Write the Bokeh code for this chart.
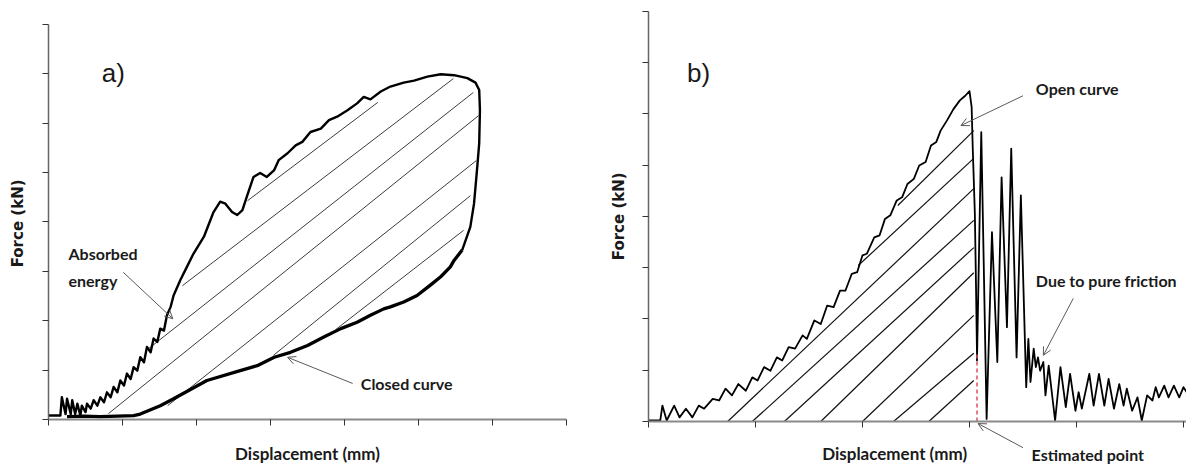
import math
from bokeh.plotting import figure
from bokeh.layouts import row
from bokeh.models import Label, Arrow, OpenHead, FixedTicker, Range1d, CustomJSTickFormatter
from bokeh.embed import file_html
from bokeh.resources import INLINE

# ---------------- Panel a data ----------------
a_xticks = [0, 1, 2, 3, 4, 5, 6, 7]
a_yticks = [0, 1, 2, 3, 4, 5, 6, 7, 8]

a_load_x = [0.00, 0.16, 0.18, 0.23, 0.25, 0.30, 0.32, 0.36, 0.39, 0.43,
            0.45, 0.50, 0.52, 0.57, 0.61, 0.66, 0.70, 0.75, 0.79, 0.84,
            0.88, 0.93, 0.97, 1.02, 1.06, 1.11, 1.15, 1.20, 1.24, 1.29,
            1.33, 1.38, 1.42, 1.47, 1.51, 1.56, 1.60, 1.65, 1.69, 1.78,
            1.87, 1.96, 2.10, 2.23, 2.32, 2.39, 2.48, 2.55, 2.62, 2.68,
            2.77, 2.86, 2.95, 3.05, 3.11, 3.23, 3.34, 3.43, 3.54, 3.68,
            3.79, 3.90, 4.04, 4.17, 4.26, 4.35, 4.49, 4.62, 4.80, 4.94,
            5.12, 5.30, 5.48, 5.66, 5.77, 5.82, 5.83, 5.82, 5.79, 5.75,
            5.70, 5.59]
a_load_y = [0.08, 0.08, 0.45, 0.11, 0.42, 0.11, 0.39, 0.11, 0.32, 0.08,
            0.28, 0.15, 0.32, 0.22, 0.39, 0.28, 0.45, 0.35, 0.55, 0.45,
            0.66, 0.55, 0.79, 0.69, 0.93, 0.82, 1.06, 0.99, 1.26, 1.16,
            1.47, 1.36, 1.64, 1.57, 1.84, 1.80, 2.11, 2.28, 2.51, 2.82,
            3.09, 3.36, 3.70, 4.20, 4.41, 4.37, 4.20, 4.14, 4.24, 4.51,
            4.91, 4.99, 4.91, 5.05, 5.25, 5.39, 5.55, 5.62, 5.82, 5.89,
            6.06, 6.13, 6.26, 6.40, 6.53, 6.48, 6.64, 6.74, 6.82, 6.86,
            6.94, 6.99, 6.97, 6.91, 6.82, 6.67, 6.26, 5.59, 5.05, 4.37,
            3.90, 3.43]

a_unload_x = [5.59, 5.48, 5.43, 5.30, 5.16, 4.98, 4.80, 4.62, 4.53, 4.35,
              4.17, 3.95, 3.72, 3.50, 3.27, 3.05, 2.82, 2.59, 2.14, 1.69,
              1.51, 1.24, 1.15, 0.93, 0.70, 0.48, 0.25]
a_unload_y = [3.43, 3.22, 3.09, 2.89, 2.72, 2.51, 2.38, 2.28, 2.24, 2.11,
              1.97, 1.84, 1.67, 1.50, 1.36, 1.26, 1.09, 0.99, 0.79, 0.42,
              0.28, 0.11, 0.08, 0.07, 0.06, 0.07, 0.06]

a_hatch_x0 = [0.81, 1.34, 1.61, 1.81, 2.69, 3.04, 3.88]
a_hatch_y0 = [0.12, 1.42, 0.28, 2.71, 4.43, 1.30, 1.82]
a_hatch_x1 = [5.81, 5.74, 5.78, 5.47, 4.45, 5.70, 5.61]
a_hatch_y1 = [6.15, 6.62, 5.24, 6.90, 6.42, 4.53, 3.83]

a_arrow_x0 = [1.01, 4.11]
a_arrow_y0 = [2.98, 0.73]
a_arrow_x1 = [1.68, 3.23]
a_arrow_y1 = [2.04, 1.26]

# ---------------- Panel b data ----------------
b_xticks = [0, 1, 2, 3, 4, 5]
b_yticks = [0, 1, 2, 3, 4, 5, 6, 7, 8]

b_x = [0.00, 0.11, 0.13, 0.17, 0.24, 0.29, 0.35, 0.41, 0.47, 0.52,
       0.60, 0.66, 0.72, 0.78, 0.84, 0.91, 0.97, 1.02, 1.08, 1.14,
       1.20, 1.25, 1.31, 1.37, 1.44, 1.48, 1.55, 1.61, 1.67, 1.73,
       1.79, 1.84, 1.90, 1.95, 2.00, 2.04, 2.11, 2.16, 2.21, 2.26,
       2.32, 2.37, 2.42, 2.48, 2.53, 2.59, 2.64, 2.69, 2.73, 2.79,
       2.85, 2.91, 2.96, 3.00, 3.02, 3.03, 3.05, 3.06, 3.07, 3.07,
       3.11, 3.16, 3.21, 3.26, 3.30, 3.35, 3.39, 3.44, 3.48, 3.53,
       3.55, 3.57, 3.60, 3.62, 3.64, 3.66, 3.69, 3.71, 3.74, 3.80,
       3.85, 3.90, 3.94, 3.99, 4.02, 4.05, 4.12, 4.16, 4.21, 4.26,
       4.30, 4.35, 4.40, 4.44, 4.47, 4.52, 4.57, 4.61, 4.66, 4.71,
       4.74, 4.77, 4.82, 4.86, 4.91, 4.96, 5.00, 5.03]
b_y = [0.02, 0.02, 0.31, 0.02, 0.31, 0.08, 0.25, 0.08, 0.31, 0.25,
       0.44, 0.41, 0.64, 0.51, 0.73, 0.60, 0.86, 0.80, 1.06, 0.99,
       1.25, 1.19, 1.45, 1.42, 1.68, 1.61, 1.97, 1.90, 2.26, 2.23,
       2.55, 2.55, 2.88, 2.91, 3.24, 3.27, 3.59, 3.63, 3.95, 4.02,
       4.31, 4.37, 4.63, 4.73, 4.99, 5.06, 5.38, 5.45, 5.67, 5.87,
       6.09, 6.26, 6.35, 6.44, 6.13, 5.35, 4.05, 2.75, 1.32, 1.19,
       5.64, 0.05, 3.69, 1.16, 4.76, 1.84, 5.32, 1.25, 4.41, 0.67,
       1.61, 0.77, 1.42, 1.06, 1.25, 0.99, 1.16, 0.51, 1.09, 0.02,
       1.06, 0.28, 0.93, 0.21, 0.57, 0.25, 0.93, 0.31, 0.93, 0.31,
       0.83, 0.25, 0.73, 0.31, 0.64, 0.21, 0.47, 0.02, 0.51, 0.41,
       0.67, 0.47, 0.70, 0.47, 0.70, 0.47, 0.67, 0.57]

b_hatch_x0 = [0.74, 0.97, 1.27, 1.61, 2.00, 2.29, 2.62, 1.96, 2.33]
b_hatch_y0 = [0.00, 0.00, 0.00, 0.00, 0.00, 0.00, 0.00, 3.04, 4.21]
b_hatch_x1 = [3.04, 3.04, 3.04, 3.04, 3.04, 3.04, 3.04, 3.04, 3.04]
b_hatch_y1 = [4.54, 3.92, 3.39, 2.90, 2.07, 1.33, 0.80, 5.13, 5.67]

b_estimated_x = [3.07, 3.07]
b_estimated_y = [0.00, 1.33]

b_arrow_x0 = [3.50, 3.97, 3.50]
b_arrow_y0 = [6.35, 2.40, -0.51]
b_arrow_x1 = [2.92, 3.69, 3.08]
b_arrow_y1 = [5.77, 1.29, -0.04]

ANN_FONT = "Lato"
TXT = "#1a1a1a"
ARROW_C = "#5a5a5a"


def style_axes(p, xticks, yticks, xmax, ymax):
    p.xgrid.visible = False
    p.ygrid.visible = False
    p.outline_line_color = None
    p.background_fill_color = "white"
    p.border_fill_color = "white"
    for ax, ticks in ((p.xaxis, xticks), (p.yaxis, yticks)):
        ax.fixed_location = 0
        ax.ticker = FixedTicker(ticks=ticks)
        ax.formatter = CustomJSTickFormatter(code="return ''")
        ax.major_tick_in = 0
        ax.major_tick_out = 6
        ax.major_tick_line_color = "#333333"
        ax.major_tick_line_width = 1
        ax.minor_tick_line_color = None
    p.xaxis.bounds = (0, xmax)
    p.yaxis.bounds = (0, ymax)
    p.xaxis.axis_line_color = "#8a8a8a"
    p.xaxis.axis_line_width = 2
    p.yaxis.axis_line_color = "#666666"
    p.yaxis.axis_line_width = 1.5


def add_arrows(p, xs0, ys0, xs1, ys1):
    for x0, y0, x1, y1 in zip(xs0, ys0, xs1, ys1):
        p.add_layout(Arrow(end=OpenHead(size=8, line_color=ARROW_C, line_width=1),
                           x_start=x0, y_start=y0, x_end=x1, y_end=y1,
                           line_color=ARROW_C, line_width=1))


def ann(p, x, y, text, size="16px", align="left", angle=0.0, font=ANN_FONT,
        style="bold"):
    p.add_layout(Label(x=x, y=y, text=text, text_font=font,
                       text_font_size=size, text_font_style=style,
                       text_color=TXT, text_align=align,
                       text_baseline="middle", angle=angle))


# ---------------- Figure a ----------------
pa = figure(width=590, height=466,
            x_range=Range1d(-0.649, 7.324), y_range=Range1d(-0.951, 8.482),
            output_backend="svg", toolbar_location=None,
            min_border_left=0, min_border_right=0,
            min_border_top=0, min_border_bottom=0)
style_axes(pa, a_xticks, a_yticks, 7, 8)

pa.segment(a_hatch_x0, a_hatch_y0, a_hatch_x1, a_hatch_y1,
           line_color="#3c3c3c", line_width=1)
pa.line(a_load_x, a_load_y, line_color="black", line_width=2.4,
        line_join="round")
pa.line(a_unload_x, a_unload_y, line_color="black", line_width=3.3,
        line_join="round")
add_arrows(pa, a_arrow_x0, a_arrow_y0, a_arrow_x1, a_arrow_y1)

ann(pa, 0.72, 7.02, "a)", size="26px", font="Liberation Sans", style="normal")
ann(pa, 0.27, 3.36, "Absorbed")
ann(pa, 0.27, 2.81, "energy")
ann(pa, 4.22, 0.73, "Closed curve")
ann(pa, -0.41, 3.97, "Force (kN)", size="15px", align="center",
    angle=math.pi / 2, font="DejaVu Sans")
ann(pa, 3.50, -0.69, "Displacement (mm)", size="17px", align="center")

# ---------------- Figure b ----------------
pb = figure(width=596, height=466,
            x_range=Range1d(-0.542, 5.028), y_range=Range1d(-0.877, 8.207),
            output_backend="svg", toolbar_location=None,
            min_border_left=0, min_border_right=0,
            min_border_top=0, min_border_bottom=0)
style_axes(pb, b_xticks, b_yticks, 5.028, 8)

pb.segment(b_hatch_x0, b_hatch_y0, b_hatch_x1, b_hatch_y1,
           line_color="#111111", line_width=1.2)
pb.line(b_x, b_y, line_color="black", line_width=1.8, line_join="round")
pb.line(b_estimated_x, b_estimated_y, line_color="#e0505e", line_width=1.5,
        line_dash="4 3")
add_arrows(pb, b_arrow_x0, b_arrow_y0, b_arrow_x1, b_arrow_y1)

ann(pb, 0.36, 6.80, "b)", size="26px", font="Liberation Sans", style="normal")
ann(pb, 3.62, 6.49, "Open curve")
ann(pb, 3.62, 2.75, "Due to pure friction")
ann(pb, 3.58, -0.64, "Estimated point")
ann(pb, -0.28, 4.0, "Force (kN)", size="15px", align="center",
    angle=math.pi / 2, font="DejaVu Sans")
ann(pb, 2.30, -0.62, "Displacement (mm)", size="17px", align="center")

layout = row(pa, pb)
open("out.html", "w").write(file_html(layout, INLINE))
